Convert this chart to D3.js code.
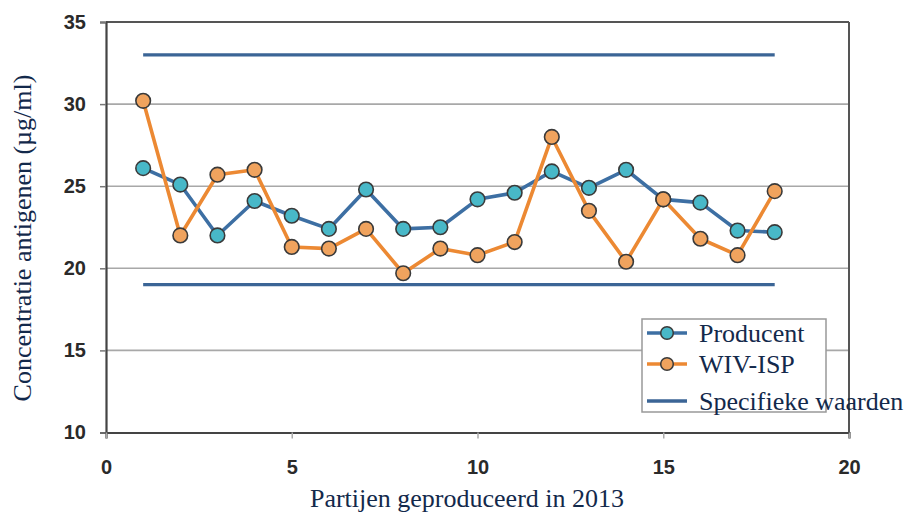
<!DOCTYPE html>
<html><head><meta charset="utf-8">
<script src="https://cdn.jsdelivr.net/npm/d3@7"></script>
<style>body{margin:0;background:#fff}svg{display:block}</style>
</head><body>
<svg id="c" width="908" height="513"></svg>
<script>
const batches = [1,2,3,4,5,6,7,8,9,10,11,12,13,14,15,16,17,18];
const producent = [26.1,25.1,22.0,24.1,23.2,22.4,24.8,22.4,22.5,24.2,24.6,25.9,24.9,26.0,24.2,24.0,22.3,22.2];
const wivIsp = [30.2,22.0,25.7,26.0,21.3,21.2,22.4,19.7,21.2,20.8,21.6,28.0,23.5,20.4,24.2,21.8,20.8,24.7];
const specUpper = 33;
const specLower = 19;
const specRange = [1,18];
const xTicks = [0,5,10,15,20];
const yTicks = [10,15,20,25,30,35];
const legendLabels = ["Producent","WIV-ISP","Specifieke waarden"];
const xTitle = "Partijen geproduceerd in 2013";
const yTitle = "Concentratie antigenen (µg/ml)";

const svg = d3.select("#c");
const L=106, R=849, T=22, B=432.5;
const x = d3.scaleLinear().domain([0,20]).range([L,R]);
const y = d3.scaleLinear().domain([10,35]).range([B,T]);

// gridlines
svg.append("g").selectAll("line").data(yTicks.filter(d=>d>10&&d<35)).join("line")
  .attr("x1",L).attr("x2",R).attr("y1",d=>y(d)).attr("y2",d=>y(d))
  .attr("stroke","#a8a8a8").attr("stroke-width",1.6);

// frame top/right
svg.append("line").attr("x1",L).attr("x2",R).attr("y1",T).attr("y2",T).attr("stroke","#555").attr("stroke-width",2);
svg.append("line").attr("x1",R).attr("x2",R).attr("y1",T).attr("y2",B).attr("stroke","#555").attr("stroke-width",2);

// axes
const yAxis = d3.axisLeft(y).tickValues(yTicks).tickSize(6).tickPadding(12);
const gy = svg.append("g").attr("transform",`translate(${L},0)`).call(yAxis);
gy.select(".domain").attr("stroke","#444").attr("stroke-width",2.2);
gy.selectAll(".tick line").attr("stroke","#777").attr("stroke-width",1.5);
gy.selectAll(".tick text").attr("font-family","Liberation Sans, Arial, sans-serif")
  .attr("font-size",20).attr("font-weight","bold").attr("fill","#2a2a2a").attr("dx",-2);

const xAxis = d3.axisBottom(x).tickValues(xTicks).tickSize(6).tickPadding(21);
const gx = svg.append("g").attr("transform",`translate(0,${B})`).call(xAxis);
gx.select(".domain").attr("stroke","#444").attr("stroke-width",2.2);
gx.selectAll(".tick line").attr("stroke","#aaa").attr("stroke-width",1.5);
gx.selectAll(".tick text").attr("font-family","Liberation Sans, Arial, sans-serif")
  .attr("font-size",20).attr("font-weight","bold").attr("fill","#2a2a2a");

// spec lines
const specColor = "#3b6596";
[specUpper,specLower].forEach(v=>{
  svg.append("line").attr("x1",x(specRange[0])).attr("x2",x(specRange[1]))
    .attr("y1",y(v)).attr("y2",y(v)).attr("stroke",specColor).attr("stroke-width",3.2);
});

const line = d3.line().x((d,i)=>x(batches[i])).y(d=>y(d));
const series = [
  {vals:producent, lc:"#3d6fa3", fc:"#48b8c8"},
  {vals:wivIsp, lc:"#ec8933", fc:"#f0a35e"}
];
series.forEach(s=>{
  svg.append("path").datum(s.vals).attr("d",line).attr("fill","none")
    .attr("stroke",s.lc).attr("stroke-width",3.6).attr("stroke-linejoin","round");
});
series.forEach(s=>{
  svg.append("g").selectAll("circle").data(s.vals).join("circle")
    .attr("cx",(d,i)=>x(batches[i])).attr("cy",d=>y(d)).attr("r",7.3)
    .attr("fill",s.fc).attr("stroke","#3a3a3a").attr("stroke-width",1.6);
});

// legend
const lg = svg.append("g");
lg.append("rect").attr("x",642).attr("y",319).attr("width",184).attr("height",93)
  .attr("fill","#fff").attr("stroke","#999").attr("stroke-width",1.5);
const ly = [333,364,401];
const lcols = ["#3d6fa3","#ec8933",specColor];
const lfill = ["#48b8c8","#f0a35e",null];
legendLabels.forEach((t,i)=>{
  lg.append("line").attr("x1",647).attr("x2",687).attr("y1",ly[i]).attr("y2",ly[i])
    .attr("stroke",lcols[i]).attr("stroke-width",3.4);
  if(lfill[i]) lg.append("circle").attr("cx",667).attr("cy",ly[i]).attr("r",6.3)
    .attr("fill",lfill[i]).attr("stroke","#3a3a3a").attr("stroke-width",1.5);
  lg.append("text").attr("x",699).attr("y",ly[i]).attr("dy","0.33em")
    .attr("font-family","Liberation Serif, Times New Roman, serif").attr("font-size",26)
    .attr("fill","#13294b").text(t);
});

// titles
svg.append("text").attr("x",467).attr("y",507).attr("text-anchor","middle")
  .attr("font-family","Liberation Serif, Times New Roman, serif").attr("font-size",26)
  .attr("fill","#13294b").text(xTitle);
svg.append("text").attr("transform","translate(31,238) rotate(-90)").attr("text-anchor","middle")
  .attr("font-family","Liberation Serif, Times New Roman, serif").attr("font-size",26)
  .attr("fill","#13294b").text(yTitle);
</script>
</body></html>
